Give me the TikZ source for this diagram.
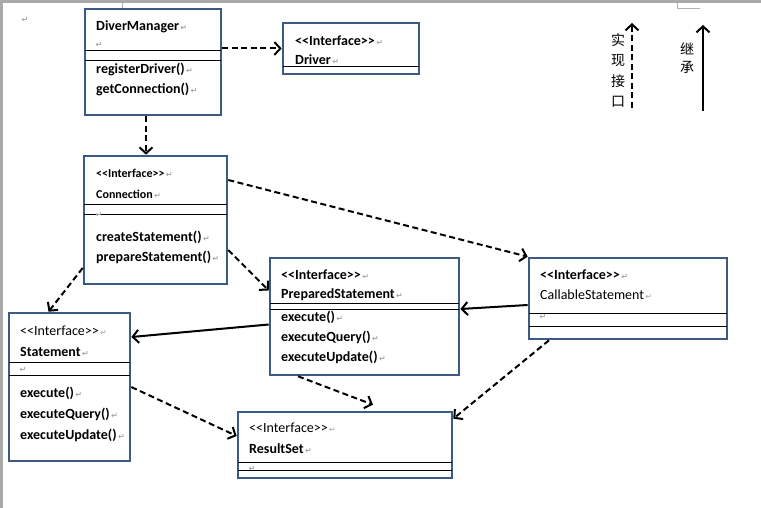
\documentclass[tikz,border=0pt]{standalone}
\usepackage{fontspec}
\setmainfont{Carlito}
\newfontfamily\cjk{Noto Sans CJK SC}
\newfontfamily\markfont{DejaVu Sans}
\usetikzlibrary{arrows.meta}
\definecolor{boxblue}{RGB}{60,90,130}
\definecolor{pagegray}{RGB}{170,170,170}
\newcommand{\parmark}{{\markfont\fontsize{8}{8}\selectfont\color{gray!70}\,↵}}
\newcommand{\stereo}{<\kern0pt<Interface>\kern0pt>}
\tikzset{
  classbox/.style={draw=boxblue, line width=2.6pt, fill=white, inner sep=0pt},
  divider/.style={line width=0.9pt, shorten <=1.4pt, shorten >=1.4pt},
  txt/.style={anchor=west, inner sep=0pt, font=\fontsize{14}{14}\selectfont\bfseries},
  txtlight/.style={txt, font=\fontsize{14}{14}\selectfont},
  txtsmall/.style={txt, font=\fontsize{12}{12}\selectfont\bfseries},
  realize/.style={line width=2pt, dash pattern=on 6pt off 3.5pt, -{Straight Barb[length=6pt,width=13pt]}},
  inherit/.style={line width=2pt, -{Straight Barb[length=6pt,width=13pt]}},
}
\begin{document}
\begin{tikzpicture}[x=1pt, y=-1pt]
    \useasboundingbox (0,0) rectangle (761,508);
    % page edge of the word document
    \fill[pagegray] (0,0) rectangle (761,3);
    \fill[pagegray] (0,0) rectangle (3,508);
    \draw[gray!60, line width=0.8pt] (122,3) -- (122,8);
    \draw[gray!60, line width=0.8pt] (677,3) -- (677,8) -- (700,8);
    \node[txt] (topMark) at (20,20) {\parmark};

    % the class boxes
    \node[classbox, minimum width=136pt, minimum height=106pt] (mgr) at (153,62) {};
    \node[classbox, minimum width=136pt, minimum height=51pt] (drv) at (351,48.5) {};
    \node[classbox, minimum width=143pt, minimum height=128pt] (conn) at (155.5,220) {};
    \node[classbox, minimum width=189pt, minimum height=117pt] (prep) at (364.5,316.5) {};
    \node[classbox, minimum width=198pt, minimum height=81pt] (call) at (628,298.5) {};
    \node[classbox, minimum width=121pt, minimum height=148pt] (stmt) at (69.5,387) {};
    \node[classbox, minimum width=214pt, minimum height=66pt] (rs) at (345,445) {};

    % DiverManager
    \node[txt] (mgrName) at (96,27) {DiverManager\parmark};
    \node[txt] (mgrAttr) at (94,45) {\parmark};
    \draw[divider] (mgr.west |- 0,50) -- (mgr.east |- 0,50);
    \draw[divider] (mgr.west |- 0,60) -- (mgr.east |- 0,60);
    \node[txt] (mgrM1) at (96,69) {registerDriver()\parmark};
    \node[txt] (mgrM2) at (96,89) {getConnection()\parmark};

    % Driver
    \node[txt] (drvStereo) at (295,41) {\stereo\parmark};
    \node[txt] (drvName) at (295,60) {Driver\parmark};
    \draw[divider] (drv.west |- 0,66) -- (drv.east |- 0,66);

    % Connection
    \node[txtsmall] (connStereo) at (96,173) {\stereo\parmark};
    \node[txtsmall] (connName) at (96,194) {Connection\parmark};
    \draw[divider] (conn.west |- 0,204) -- (conn.east |- 0,204);
    \draw[divider] (conn.west |- 0,214) -- (conn.east |- 0,214);
    \node[txt] (connAttr) at (94,215) {\parmark};
    \node[txt] (connM1) at (96,237) {createStatement()\parmark};
    \node[txt] (connM2) at (96,257) {prepareStatement()\parmark};

    % PreparedStatement
    \node[txt] (prepStereo) at (281,275) {\stereo\parmark};
    \node[txt] (prepName) at (281,295) {PreparedStatement\parmark};
    \draw[divider] (prep.west |- 0,303) -- (prep.east |- 0,303);
    \draw[divider] (prep.west |- 0,309) -- (prep.east |- 0,309);
    \node[txt] (prepM1) at (281,317) {execute()\parmark};
    \node[txt] (prepM2) at (281,337) {executeQuery()\parmark};
    \node[txt] (prepM3) at (281,357) {executeUpdate()\parmark};

    % CallableStatement
    \node[txt] (callStereo) at (540,275) {\stereo\parmark};
    \node[txtlight] (callName) at (540,295) {CallableStatement\parmark};
    \draw[divider] (call.west |- 0,313) -- (call.east |- 0,313);
    \draw[divider] (call.west |- 0,326) -- (call.east |- 0,326);
    \node[txt] (callAttr) at (538,317) {\parmark};

    % Statement
    \node[txtlight] (stmtStereo) at (20,331) {\stereo\parmark};
    \node[txt] (stmtName) at (20,352) {Statement\parmark};
    \draw[divider] (stmt.west |- 0,362) -- (stmt.east |- 0,362);
    \draw[divider] (stmt.west |- 0,375) -- (stmt.east |- 0,375);
    \node[txt] (stmtAttr) at (18,370) {\parmark};
    \node[txt] (stmtM1) at (20,393) {execute()\parmark};
    \node[txt] (stmtM2) at (20,414) {executeQuery()\parmark};
    \node[txt] (stmtM3) at (20,435) {executeUpdate()\parmark};

    % ResultSet
    \node[txtlight] (rsStereo) at (249,428) {\stereo\parmark};
    \node[txt] (rsName) at (249,449) {ResultSet\parmark};
    \draw[divider] (rs.west |- 0,462) -- (rs.east |- 0,462);
    \draw[divider] (rs.west |- 0,470) -- (rs.east |- 0,470);
    \node[txt] (rsAttr) at (247,469) {\parmark};

    % relations
    \draw[realize] (mgr.east |- drv.west) -- (drv.west);
    \draw[realize] ([xshift=-7pt]mgr.south) -- ([xshift=-7pt]mgr.south |- conn.north);
    \draw[realize] ([yshift=40pt]conn.east) -- (call.north west);
    \draw[realize] ([yshift=-30pt]conn.east) -- ([yshift=26pt]prep.west);
    \draw[realize] ([yshift=-48pt]conn.west) -- ([xshift=-21pt]stmt.north);
    \draw[inherit] ([yshift=-8pt]prep.west) -- ([yshift=50pt]stmt.east);
    \draw[inherit] ([yshift=-6.5pt]call.west) -- ([yshift=7.5pt]prep.east);
    \draw[realize] (stmt.east) -- ([yshift=9pt]rs.west);
    \draw[realize] ([xshift=-66.5pt]prep.south) -- ([xshift=28pt,yshift=6pt]rs.north);
    \draw[realize] ([xshift=-79pt]call.south) -- ([yshift=-8pt]rs.north east);

    % legend
    \coordinate (implBot) at (632,108);
    \coordinate (implTop) at (632,23);
    \coordinate (inhBot) at (703,111);
    \coordinate (inhTop) at (703,25);
    \draw[realize] (implBot) -- (implTop);
    \draw[inherit] (inhBot) -- (inhTop);
    \node[align=center, inner sep=0pt, font=\cjk\fontsize{14}{20.2}\selectfont] (implText) at (618,70.5) {实\\现\\接\\口};
    \node[align=center, inner sep=0pt, font=\cjk\fontsize{14}{18}\selectfont] (inhText) at (687,58.5) {继\\承};
\end{tikzpicture}
\end{document}
